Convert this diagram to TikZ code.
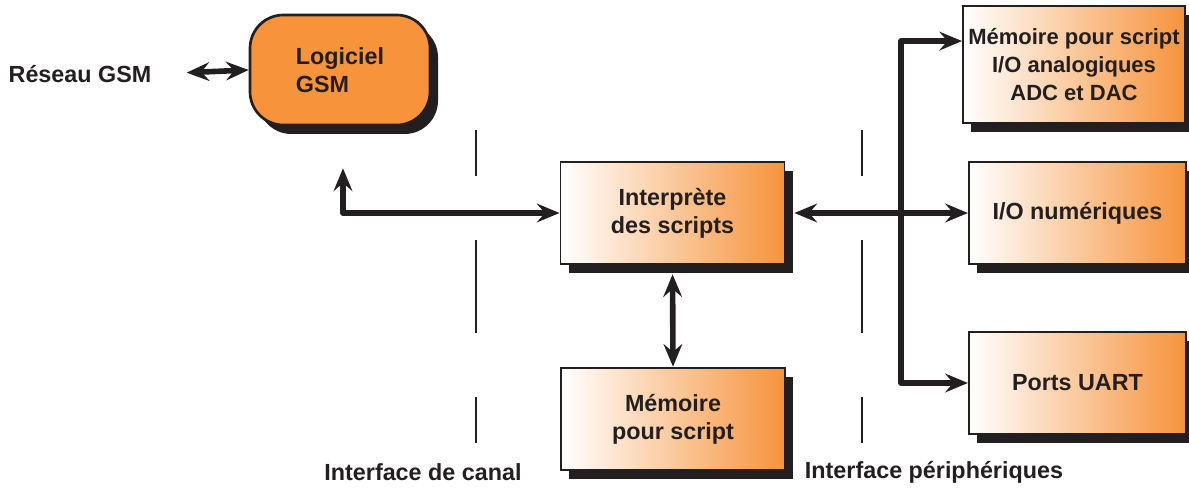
\documentclass[tikz,border=0pt]{standalone}
\usepackage{fontspec}
\setmainfont{Liberation Sans}
\usetikzlibrary{arrows.meta,shadows,calc}
\definecolor{gsmorange}{RGB}{246,147,59}
\definecolor{ink}{RGB}{35,31,32}

\begin{document}
\begin{tikzpicture}[x=0.75pt, y=-0.75pt,
    every node/.style={font=\fontsize{17.5}{21}\selectfont\bfseries, text=ink},
    shadowed/.style={drop shadow={shadow xshift=6pt, shadow yshift=-6.75pt, opacity=1, fill=ink}},
    gsmbox/.style={rectangle, rounded corners=25pt, draw=ink, line width=2pt, fill=gsmorange, shadowed, align=left, inner sep=0pt, minimum width=135pt, minimum height=82.5pt},
    soft/.style={rectangle, draw=ink, line width=1.4pt, shadowed, left color=white, right color=gsmorange, align=center, inner sep=0pt, minimum width=168pt, minimum height=77pt},
    side/.style={soft, minimum width=163pt},
    link/.style={draw=ink, line width=4.2pt, line join=round, >={Stealth[length=17pt, width=14pt, inset=6pt]}},
    divider/.style={draw=ink, line width=1.2pt, dash pattern=on 34.5pt off 48pt on 69.75pt off 48pt on 34.5pt}]

    \useasboundingbox (0,0) rectangle (1189,488);

    % GSM side
    \node (reseau) at (80,74) {Réseau GSM};
    \node[gsmbox] (gsm) at (340,70) {Logiciel\\GSM};

    % Central column
    \node[soft] (interp) at (672.5,213) {Interprète\\des scripts};
    \node[soft] (mem) at (673,419) {Mémoire\\pour script};

    % Peripherals
    \node[side, minimum width=166.5pt, minimum height=87.75pt, font=\fontsize{16.5}{21}\selectfont\bfseries] (adc) at (1074,64.5) {Mémoire pour script\\I/O analogiques\\ADC et DAC};
    \node[side] (ionum) at (1077.5,213) {I/O numériques};
    \node[side] (uart) at (1077.5,383) {Ports UART};

    % Interface labels and dividers
    \node (canal) at (423,472) {Interface de canal};
    \node (periph) at (934,472) {Interface périphériques};
    \draw[divider] (476,130) -- (476,443);
    \draw[divider] (862,130) -- (862,443);

    % Links
    \draw[link, <->, shorten <=23pt] (reseau.east) -- (gsm.west);
    \draw[link, <->] (interp.west) -| ($(gsm.south)+(3,42)$);
    \draw[link, <->, shorten <=6.75pt] (interp.south) -- (mem.north);
    \draw[link, <->, shorten <=6.75pt] (interp.east) -- (ionum.west);
    \coordinate (bus) at (901,213);
    \draw[link, ->] (bus) |- ($(adc.north west)+(0,36)$);
    \draw[link, ->] (bus) |- (uart.west);

\end{tikzpicture}
\end{document}
